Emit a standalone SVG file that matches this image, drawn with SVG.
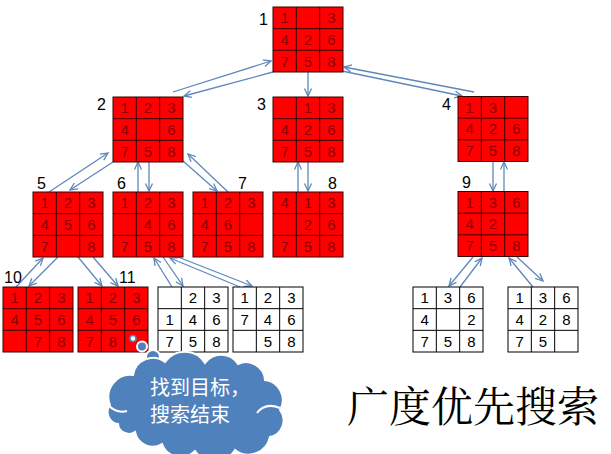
<svg xmlns="http://www.w3.org/2000/svg" xmlns:xlink="http://www.w3.org/1999/xlink" width="611" height="454" viewBox="0 0 611 454">
<style>
.cr{fill:#FF0000;stroke:#3A0000;stroke-width:1}
.cw{fill:#FFFFFF;stroke:#000000;stroke-width:1}
.gl{stroke:#3A0000;stroke-width:1}
.glw{stroke:#000000;stroke-width:1}
.nr{font-family:"Liberation Sans",Arial,sans-serif;font-size:15px;fill:#8A0000;text-anchor:middle}
.nw{font-family:"Liberation Sans",Arial,sans-serif;font-size:15px;fill:#000000;text-anchor:middle}
.lb{font-family:"Liberation Sans",Arial,sans-serif;font-size:16px;fill:#000000}
.cn line{stroke:#5E88BC;stroke-width:1.3;marker-end:url(#ah)}
.ct{font-family:"Noto Sans CJK SC",sans-serif;font-size:20px;fill:#FFFFFF}
.tt{font-family:"Noto Serif CJK SC","Noto Sans CJK SC",serif;font-size:42px;fill:#000000}
</style>
<defs>
<marker id="ah" markerWidth="10" markerHeight="10" refX="8" refY="4" orient="auto" markerUnits="userSpaceOnUse">
<path d="M0.5,0.5 L8,4 L0.5,7.5" fill="none" stroke="#5E88BC" stroke-width="1.3"/>
</marker>
<g id="gr">
<rect class="cr" x="0" y="0" width="70" height="65"/>
<line class="gl" x1="23.33" y1="0" x2="23.33" y2="65"/>
<line class="gl" x1="46.67" y1="0" x2="46.67" y2="65"/>
<line class="gl" x1="0" y1="21.67" x2="70" y2="21.67"/>
<line class="gl" x1="0" y1="43.33" x2="70" y2="43.33"/>
</g>
<g id="gw">
<rect class="cw" x="0" y="0" width="70" height="65"/>
<line class="glw" x1="23.33" y1="0" x2="23.33" y2="65"/>
<line class="glw" x1="46.67" y1="0" x2="46.67" y2="65"/>
<line class="glw" x1="0" y1="21.67" x2="70" y2="21.67"/>
<line class="glw" x1="0" y1="43.33" x2="70" y2="43.33"/>
</g>
</defs>
<rect x="0" y="0" width="611" height="454" fill="#FFFFFF"/>

<g id="connectors" class="cn">
<line x1="173" y1="92" x2="271" y2="61"/>
<line x1="273" y1="72" x2="184" y2="96"/>
<line x1="308" y1="72" x2="308" y2="96"/>
<line x1="474" y1="92" x2="344" y2="67"/>
<line x1="342" y1="71" x2="462" y2="96"/>
<line x1="49" y1="192" x2="108" y2="153"/>
<line x1="113" y1="162" x2="70" y2="190"/>
<line x1="138" y1="192" x2="138" y2="162"/>
<line x1="149" y1="161" x2="149" y2="191"/>
<line x1="228" y1="192" x2="188" y2="154"/>
<line x1="183" y1="161" x2="217" y2="191"/>
<line x1="298" y1="192" x2="298" y2="162"/>
<line x1="308" y1="161" x2="308" y2="191"/>
<line x1="493" y1="161" x2="493" y2="191"/>
<line x1="504" y1="192" x2="504" y2="162"/>
<line x1="16" y1="287" x2="43" y2="258"/>
<line x1="58" y1="257" x2="29" y2="286"/>
<line x1="78" y1="257" x2="102" y2="286"/>
<line x1="93" y1="257" x2="118" y2="286"/>
<line x1="172" y1="287" x2="154" y2="258"/>
<line x1="163" y1="257" x2="183" y2="286"/>
<line x1="240" y1="287" x2="170" y2="258"/>
<line x1="178" y1="257" x2="252" y2="286"/>
<line x1="473" y1="257" x2="449" y2="286"/>
<line x1="460" y1="287" x2="482" y2="258"/>
<line x1="533" y1="287" x2="509" y2="258"/>
<line x1="517" y1="257" x2="543" y2="281"/>
</g>

<g id="n1" transform="translate(273,7)">
<use xlink:href="#gr"/>
<text class="nr" x="11.67" y="16.2">1</text><text class="nr" x="58.33" y="16.2">3</text>
<text class="nr" x="11.67" y="37.9">4</text><text class="nr" x="35" y="37.9">2</text><text class="nr" x="58.33" y="37.9">6</text>
<text class="nr" x="11.67" y="59.5">7</text><text class="nr" x="35" y="59.5">5</text><text class="nr" x="58.33" y="59.5">8</text>
</g>
<g id="n2" transform="translate(113,97)">
<use xlink:href="#gr"/>
<text class="nr" x="11.67" y="16.2">1</text><text class="nr" x="35" y="16.2">2</text><text class="nr" x="58.33" y="16.2">3</text>
<text class="nr" x="11.67" y="37.9">4</text><text class="nr" x="58.33" y="37.9">6</text>
<text class="nr" x="11.67" y="59.5">7</text><text class="nr" x="35" y="59.5">5</text><text class="nr" x="58.33" y="59.5">8</text>
</g>
<g id="n3" transform="translate(273,97)">
<use xlink:href="#gr"/>
<text class="nr" x="35" y="16.2">1</text><text class="nr" x="58.33" y="16.2">3</text>
<text class="nr" x="11.67" y="37.9">4</text><text class="nr" x="35" y="37.9">2</text><text class="nr" x="58.33" y="37.9">6</text>
<text class="nr" x="11.67" y="59.5">7</text><text class="nr" x="35" y="59.5">5</text><text class="nr" x="58.33" y="59.5">8</text>
</g>
<g id="n4" transform="translate(458,96.5)">
<use xlink:href="#gr"/>
<text class="nr" x="11.67" y="16.2">1</text><text class="nr" x="35" y="16.2">3</text>
<text class="nr" x="11.67" y="37.9">4</text><text class="nr" x="35" y="37.9">2</text><text class="nr" x="58.33" y="37.9">6</text>
<text class="nr" x="11.67" y="59.5">7</text><text class="nr" x="35" y="59.5">5</text><text class="nr" x="58.33" y="59.5">8</text>
</g>
<g id="n5" transform="translate(33,192)">
<use xlink:href="#gr"/>
<text class="nr" x="11.67" y="16.2">1</text><text class="nr" x="35" y="16.2">2</text><text class="nr" x="58.33" y="16.2">3</text>
<text class="nr" x="11.67" y="37.9">4</text><text class="nr" x="35" y="37.9">5</text><text class="nr" x="58.33" y="37.9">6</text>
<text class="nr" x="11.67" y="59.5">7</text><text class="nr" x="58.33" y="59.5">8</text>
</g>
<g id="n6" transform="translate(113,192)">
<use xlink:href="#gr"/>
<text class="nr" x="11.67" y="16.2">1</text><text class="nr" x="35" y="16.2">2</text><text class="nr" x="58.33" y="16.2">3</text>
<text class="nr" x="35" y="37.9">4</text><text class="nr" x="58.33" y="37.9">6</text>
<text class="nr" x="11.67" y="59.5">7</text><text class="nr" x="35" y="59.5">5</text><text class="nr" x="58.33" y="59.5">8</text>
</g>
<g id="n7" transform="translate(193,192)">
<use xlink:href="#gr"/>
<text class="nr" x="11.67" y="16.2">1</text><text class="nr" x="35" y="16.2">2</text><text class="nr" x="58.33" y="16.2">3</text>
<text class="nr" x="11.67" y="37.9">4</text><text class="nr" x="35" y="37.9">6</text>
<text class="nr" x="11.67" y="59.5">7</text><text class="nr" x="35" y="59.5">5</text><text class="nr" x="58.33" y="59.5">8</text>
</g>
<g id="n8" transform="translate(273,192)">
<use xlink:href="#gr"/>
<text class="nr" x="11.67" y="16.2">4</text><text class="nr" x="35" y="16.2">1</text><text class="nr" x="58.33" y="16.2">3</text>
<text class="nr" x="35" y="37.9">2</text><text class="nr" x="58.33" y="37.9">6</text>
<text class="nr" x="11.67" y="59.5">7</text><text class="nr" x="35" y="59.5">5</text><text class="nr" x="58.33" y="59.5">8</text>
</g>
<g id="n9" transform="translate(458,191.5)">
<use xlink:href="#gr"/>
<text class="nr" x="11.67" y="16.2">1</text><text class="nr" x="35" y="16.2">3</text><text class="nr" x="58.33" y="16.2">6</text>
<text class="nr" x="11.67" y="37.9">4</text><text class="nr" x="35" y="37.9">2</text>
<text class="nr" x="11.67" y="59.5">7</text><text class="nr" x="35" y="59.5">5</text><text class="nr" x="58.33" y="59.5">8</text>
</g>
<g id="n10" transform="translate(3,287)">
<use xlink:href="#gr"/>
<text class="nr" x="11.67" y="16.2">1</text><text class="nr" x="35" y="16.2">2</text><text class="nr" x="58.33" y="16.2">3</text>
<text class="nr" x="11.67" y="37.9">4</text><text class="nr" x="35" y="37.9">5</text><text class="nr" x="58.33" y="37.9">6</text>
<text class="nr" x="35" y="59.5">7</text><text class="nr" x="58.33" y="59.5">8</text>
</g>
<g id="n11" transform="translate(78,287)">
<use xlink:href="#gr"/>
<text class="nr" x="11.67" y="16.2">1</text><text class="nr" x="35" y="16.2">2</text><text class="nr" x="58.33" y="16.2">3</text>
<text class="nr" x="11.67" y="37.9">4</text><text class="nr" x="35" y="37.9">5</text><text class="nr" x="58.33" y="37.9">6</text>
<text class="nr" x="11.67" y="59.5">7</text><text class="nr" x="35" y="59.5">8</text>
</g>
<g id="wa" transform="translate(158,287)">
<use xlink:href="#gw"/>
<text class="nw" x="35" y="16.2">2</text><text class="nw" x="58.33" y="16.2">3</text>
<text class="nw" x="11.67" y="37.9">1</text><text class="nw" x="35" y="37.9">4</text><text class="nw" x="58.33" y="37.9">6</text>
<text class="nw" x="11.67" y="59.5">7</text><text class="nw" x="35" y="59.5">5</text><text class="nw" x="58.33" y="59.5">8</text>
</g>
<g id="wb" transform="translate(233,287)">
<use xlink:href="#gw"/>
<text class="nw" x="11.67" y="16.2">1</text><text class="nw" x="35" y="16.2">2</text><text class="nw" x="58.33" y="16.2">3</text>
<text class="nw" x="11.67" y="37.9">7</text><text class="nw" x="35" y="37.9">4</text><text class="nw" x="58.33" y="37.9">6</text>
<text class="nw" x="35" y="59.5">5</text><text class="nw" x="58.33" y="59.5">8</text>
</g>
<g id="wc" transform="translate(413,287)">
<use xlink:href="#gw"/>
<text class="nw" x="11.67" y="16.2">1</text><text class="nw" x="35" y="16.2">3</text><text class="nw" x="58.33" y="16.2">6</text>
<text class="nw" x="11.67" y="37.9">4</text><text class="nw" x="58.33" y="37.9">2</text>
<text class="nw" x="11.67" y="59.5">7</text><text class="nw" x="35" y="59.5">5</text><text class="nw" x="58.33" y="59.5">8</text>
</g>
<g id="wd" transform="translate(508,287)">
<use xlink:href="#gw"/>
<text class="nw" x="11.67" y="16.2">1</text><text class="nw" x="35" y="16.2">3</text><text class="nw" x="58.33" y="16.2">6</text>
<text class="nw" x="11.67" y="37.9">4</text><text class="nw" x="35" y="37.9">2</text><text class="nw" x="58.33" y="37.9">8</text>
<text class="nw" x="11.67" y="59.5">7</text><text class="nw" x="35" y="59.5">5</text>
</g>

<g id="labels">
<text class="lb" x="259" y="25">1</text>
<text class="lb" x="97" y="110">2</text>
<text class="lb" x="257" y="110">3</text>
<text class="lb" x="442" y="110">4</text>
<text class="lb" x="37" y="189">5</text>
<text class="lb" x="117" y="189">6</text>
<text class="lb" x="238" y="189">7</text>
<text class="lb" x="328" y="189">8</text>
<text class="lb" x="462" y="188">9</text>
<text class="lb" x="4" y="283">10</text>
<text class="lb" x="119" y="283">11</text>
</g>

<g id="cloud">
<circle cx="133" cy="338.5" r="3" fill="#FFFFFF" stroke="#4F81BD" stroke-width="1.6"/>
<circle cx="142" cy="346.5" r="5" fill="#4F81BD" stroke="#FFFFFF" stroke-width="2"/>
<circle cx="153" cy="357" r="7" fill="#4F81BD" stroke="#FFFFFF" stroke-width="2"/>
<path d="M110,405 A22,22 0 0 1 133,375 A20,20 0 0 1 165,362 A24,24 0 0 1 205,363 A20,20 0 0 1 238,364 A19,19 0 0 1 265,380 A20,20 0 0 1 280,410 A17,17 0 0 1 270,437 A22,22 0 0 1 235,450 A24,24 0 0 1 195,451 A20,20 0 0 1 162,444 A18,18 0 0 1 135,432 A11,11 0 0 1 118,424 A12,12 0 0 1 110,405 Z" fill="#4F81BD" stroke="#FFFFFF" stroke-width="2"/>
<path d="M108,405 Q117,414 127,411" fill="none" stroke="#FFFFFF" stroke-width="2"/>
<path d="M257,413 Q265,402 280,408" fill="none" stroke="#FFFFFF" stroke-width="2"/>
<text class="ct" x="150" y="395">找到目标，</text>
<text class="ct" x="150" y="422">搜索结束</text>
</g>

<text class="tt" x="347" y="422">广度优先搜索</text>
</svg>
